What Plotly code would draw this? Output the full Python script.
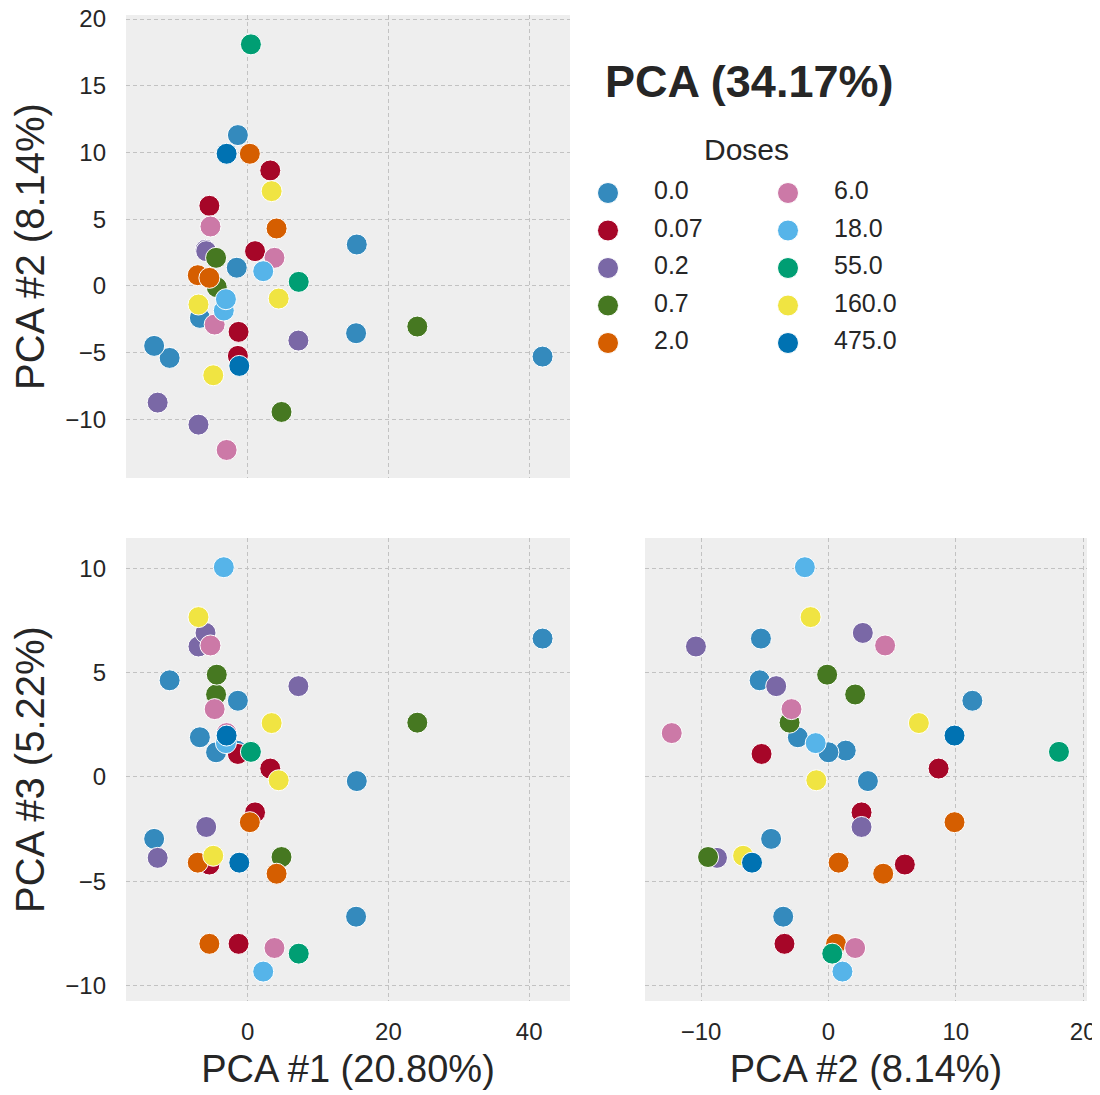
import plotly.graph_objects as go

# ---- data -----------------------------------------------------------------
doses = ["0.0", "0.07", "0.2", "0.7", "2.0", "6.0", "18.0", "55.0", "160.0", "475.0"]
colors = ["#348ABD", "#A60628", "#7A68A6", "#467821", "#D55E00",
          "#CC79A7", "#56B4E9", "#009E73", "#F0E442", "#0072B2"]

# one list per dose (same order as `doses`)
pc1_values = [
    [41.9, -11.1, -1.4, 15.5, -13.3, 15.4, -6.8, -1.56, -4.5],   # 0.0
    [3.2, -5.45, 1.04, -1.3, -1.4],                               # 0.07
    [-7.0, 7.2, -12.8, -6.0, -5.9],                               # 0.2
    [-4.5, -4.4, 24.1, 4.8],                                      # 0.7
    [0.3, 4.1, -7.1, -5.45],                                      # 2.0
    [-5.3, 3.8, -4.7, -3.0],                                      # 6.0
    [2.2, -3.4, -3.1],                                            # 18.0
    [0.45, 7.25],                                                 # 55.0
    [3.4, -7.0, 4.4, -4.9],                                       # 160.0
    [-3.0, -1.2],                                                 # 475.0
]
pc2_values = [
    [-5.3, -5.4, 11.3, 3.1, -4.5, -3.55, -2.4, 1.36, 0.0],
    [8.65, 6.0, 2.6, -3.45, -5.25],
    [-10.4, -4.1, -8.75, 2.7, 2.6],
    [2.1, -0.1, -3.05, -9.45],
    [9.9, 4.3, 0.8, 0.6],
    [4.45, 2.1, -2.9, -12.3],
    [1.1, -1.85, -1.0],
    [18.1, 0.3],
    [7.1, -1.4, -0.95, -6.7],
    [9.9, -6.0],
]
pc3_values = [
    [6.63, 4.63, 3.65, -0.2, -2.97, -6.7, 1.9, 1.26, 1.18],
    [0.4, -4.2, -1.7, -8.0, 1.1],
    [6.25, 4.35, -3.88, 6.9, -2.4],
    [3.95, 4.9, 2.6, -3.84],
    [-2.17, -4.64, -4.11, -8.0],
    [6.3, -8.2, 3.25, 2.1],
    [-9.33, 10.05, 1.62],
    [1.2, -8.47],
    [2.58, 7.66, -0.16, -3.78],
    [1.98, -4.11],
]

title_text = "PCA (34.17%)"
legend_title = "Doses"
label_pc1 = "PCA #1 (20.80%)"
label_pc2 = "PCA #2 (8.14%)"
label_pc3 = "PCA #3 (5.22%)"

# ---- figure geometry --------------------------------------------------------
# The page body has an 8px margin, so the figure is made 8px smaller and every
# window position below is converted to figure coordinates.
PAGE_W, PAGE_H = 1100, 1095
OFF = 8
W, H = PAGE_W - OFF, PAGE_H - OFF

FONT = "Liberation Sans, Arial, sans-serif"
TXT = "#262626"
BG = "#EEEEEE"
GRID = "#C2C2C2"


def px_x(v):
    return (v - OFF) / W


def px_y(v):
    return 1 - (v - OFF) / H


fig = go.Figure()

panels = [  # (x values, y values, xaxis, yaxis)
    (pc1_values, pc2_values, "x", "y"),
    (pc1_values, pc3_values, "x2", "y2"),
    (pc2_values, pc3_values, "x3", "y3"),
]

for p, (xs, ys, xa, ya) in enumerate(panels):
    for i, dose in enumerate(doses):
        fig.add_trace(go.Scatter(
            x=xs[i], y=ys[i], mode="markers", name=dose,
            xaxis=xa, yaxis=ya, showlegend=False,
            marker=dict(size=21, color=colors[i],
                        line=dict(color="white", width=1)),
        ))

# ---- legend (two columns of five, drawn on a hidden pixel-scaled axis) ----
n_rows = 5
leg_x0, leg_col_gap = 608, 180
leg_y0, leg_row_gap = 193, 37.5
leg_text_dx = 46
leg_mx = [leg_x0 + (i // n_rows) * leg_col_gap for i in range(len(doses))]
leg_my = [leg_y0 + (i % n_rows) * leg_row_gap for i in range(len(doses))]

fig.add_trace(go.Scatter(
    x=leg_mx, y=leg_my, mode="markers", xaxis="x4", yaxis="y4",
    showlegend=False, hoverinfo="skip",
    marker=dict(size=21, color=colors, line=dict(color="white", width=1)),
))
fig.add_trace(go.Scatter(
    x=[v + leg_text_dx for v in leg_mx], y=leg_my, mode="text",
    text=doses, textposition="middle right",
    xaxis="x4", yaxis="y4", showlegend=False, hoverinfo="skip",
    textfont=dict(size=25, color=TXT, family=FONT),
))

left_dom = [px_x(126), px_x(570)]
right_dom = [px_x(645), px_x(1087)]
top_dom = [px_y(478), px_y(15)]
bot_dom = [px_y(1001), px_y(538)]

pc1_range = [-17.3, 45.8]
pc2_range = [-14.4, 20.3]
pc3_range = [-10.74, 11.45]

common = dict(
    showgrid=True, gridcolor=GRID, griddash="4px,3px", gridwidth=1,
    zeroline=False, showline=False, ticks="", automargin=False,
    ticklabeloverflow="allow",
    tickfont=dict(size=24, color=TXT, family=FONT),
)
xcommon = dict(common, ticklabelstandoff=14)
ycommon = dict(common, ticklabelstandoff=19)
xtitle_font = dict(size=38, color=TXT, family=FONT)
ytitle_font = dict(size=40, color=TXT, family=FONT)

# grey panel backgrounds (below the grid)
shapes = [
    dict(type="rect", xref=xr + " domain", yref=yr + " domain",
         x0=0, x1=1, y0=0, y1=1, layer="below",
         fillcolor=BG, line=dict(width=0))
    for xr, yr in [("x", "y"), ("x2", "y2"), ("x3", "y3")]
]

fig.update_layout(
    width=W, height=H,
    margin=dict(l=0, r=0, t=0, b=0, autoexpand=False),
    template="none",
    paper_bgcolor="white",
    plot_bgcolor="rgba(0,0,0,0)",
    font=dict(family=FONT, color=TXT),
    showlegend=False,
    shapes=shapes,
    xaxis=dict(domain=left_dom, range=pc1_range, dtick=20, anchor="y",
               showticklabels=False, **xcommon),
    yaxis=dict(domain=top_dom, range=pc2_range, dtick=5, anchor="x",
               title=dict(text=label_pc2, font=ytitle_font, standoff=9), **ycommon),
    xaxis2=dict(domain=left_dom, range=pc1_range, dtick=20, anchor="y2",
                title=dict(text=label_pc1, font=xtitle_font, standoff=11), **xcommon),
    yaxis2=dict(domain=bot_dom, range=pc3_range, dtick=5, anchor="x2",
                title=dict(text=label_pc3, font=ytitle_font, standoff=9), **ycommon),
    xaxis3=dict(domain=right_dom, range=pc2_range, dtick=10, anchor="y3",
                title=dict(text=label_pc2, font=xtitle_font, standoff=11), **xcommon),
    yaxis3=dict(domain=bot_dom, range=pc3_range, dtick=5, anchor="x3",
                showticklabels=False, **ycommon),
    xaxis4=dict(domain=[0, 1], range=[OFF, PAGE_W], visible=False, fixedrange=True),
    yaxis4=dict(domain=[0, 1], range=[PAGE_H, OFF], visible=False, fixedrange=True,
                anchor="x4"),
    annotations=[
        dict(text="<b>" + title_text + "</b>", x=px_x(749), y=px_y(81),
             xref="paper", yref="paper", showarrow=False,
             xanchor="center", yanchor="middle",
             font=dict(size=45, color=TXT, family=FONT)),
        dict(text=legend_title, x=px_x(746), y=px_y(149),
             xref="paper", yref="paper", showarrow=False,
             xanchor="center", yanchor="middle",
             font=dict(size=30, color=TXT, family=FONT)),
    ],
)

fig.write_html("out.html")
